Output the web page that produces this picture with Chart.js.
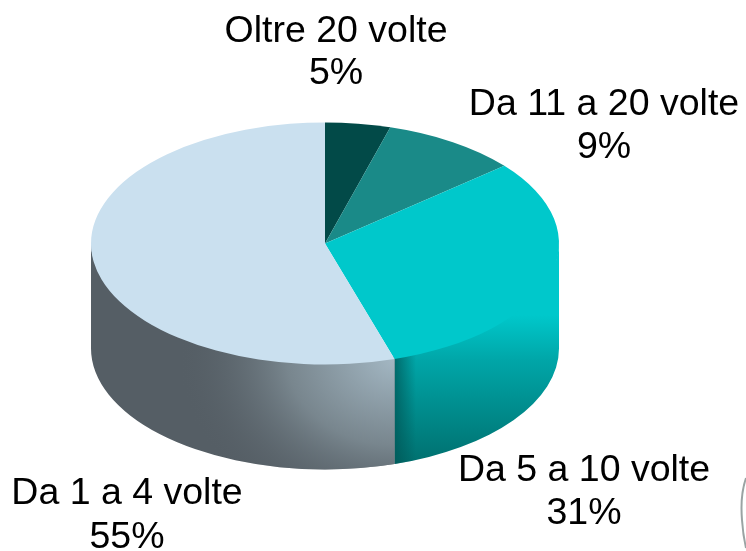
<!DOCTYPE html>
<html><head><meta charset="utf-8">
<style>html,body{margin:0;padding:0;background:#fff}#w{position:absolute;left:0;top:0;width:746px;height:551px}</style>
<script src="https://cdn.jsdelivr.net/npm/chart.js@4/dist/chart.umd.min.js"></script>
</head><body><div id="w"><canvas id="c" width="746" height="551"></canvas></div>
<script>
const categories = ["Oltre 20 volte","Da 11 a 20 volte","Da 5 a 10 volte","Da 1 a 4 volte"];
const values = [4.5,9.4,31.3,54.8];
const pctLabels = ["5%","9%","31%","55%"];
const colors = ["#024a48","#1a8a88","#00c8cb","#cae0ef"];

const SQUASH = 121/234, TOP_Y = 243.5, DEPTH = 105;
const labelCenters = [[336,32,74],[604,105,148],[584,471,514],[127,494,538]];

function wallPath(ctx,a,a1,a2){
  const ry=a.outerRadius*SQUASH;
  ctx.beginPath();
  ctx.ellipse(a.x,TOP_Y-2,a.outerRadius,ry,0,a1,a2,false);
  ctx.ellipse(a.x,TOP_Y+DEPTH,a.outerRadius,ry,0,a2,a1,true);
  ctx.closePath();
}
const pie3d = {
  id:'pie3d',
  beforeDatasetsDraw(chart){
    const ctx=chart.ctx, arcs=chart.getDatasetMeta(0).data;
    arcs.forEach((a,i)=>{
      const a1=Math.max(a.startAngle,0), a2=Math.min(a.endAngle,Math.PI);
      if(a2<=a1) return;
      ctx.save();
      wallPath(ctx,a,a1,a2);
      ctx.clip();
      if(i===3){
        ctx.fillStyle='#555e65'; ctx.fillRect(0,0,746,551);
        ctx.translate(396,358); ctx.scale(1,0.8);
        const g=ctx.createRadialGradient(0,0,0,0,0,218);
        g.addColorStop(0,'rgba(164,184,196,1)');
        g.addColorStop(0.5,'rgba(122,136,144,0.95)');
        g.addColorStop(1,'rgba(85,94,101,0)');
        ctx.fillStyle=g; ctx.fillRect(-400,-400,800,800);
      } else {
        const g=ctx.createLinearGradient(0,315,0,465);
        g.addColorStop(0,'#00c8cb');
        g.addColorStop(0.3,'#00a6a8');
        g.addColorStop(1,'#006f6e');
        ctx.fillStyle=g; ctx.fillRect(0,0,746,551);
        const h=ctx.createLinearGradient(394,0,416,0);
        h.addColorStop(0,'rgba(0,85,85,0.75)');
        h.addColorStop(1,'rgba(0,85,85,0)');
        ctx.fillStyle=h; ctx.fillRect(390,300,30,200);
      }
      ctx.restore();
    });
    ctx.save();
    const c=arcs[0];
    ctx.translate(0,TOP_Y); ctx.scale(1,SQUASH); ctx.translate(0,-c.y);
  },
  afterDatasetsDraw(chart){
    const ctx=chart.ctx;
    ctx.restore();
    ctx.fillStyle='#000';
    ctx.font='37.5px "Liberation Sans", Arial, sans-serif';
    ctx.textAlign='center'; ctx.textBaseline='middle';
    categories.forEach((t,i)=>{
      const p=labelCenters[i];
      ctx.fillText(t,p[0],p[1]);
      ctx.fillText(pctLabels[i],p[0],p[2]);
    });
    ctx.strokeStyle='#9aa3a3'; ctx.lineWidth=2;
    ctx.beginPath();
    ctx.moveTo(746,478);ctx.quadraticCurveTo(740,495,742,520);ctx.quadraticCurveTo(743,535,746,548);
    ctx.stroke();
  }
};
new Chart(document.getElementById('c'),{
  type:'pie',
  data:{labels:categories,datasets:[{data:values,backgroundColor:colors,borderWidth:0,hoverOffset:0,clip:false}]},
  options:{responsive:false,animation:false,
    layout:{padding:{left:91,right:187,top:41,bottom:42}},
    plugins:{legend:{display:false},tooltip:{enabled:false}},
    events:[]},
  plugins:[pie3d]
});
</script></body></html>
